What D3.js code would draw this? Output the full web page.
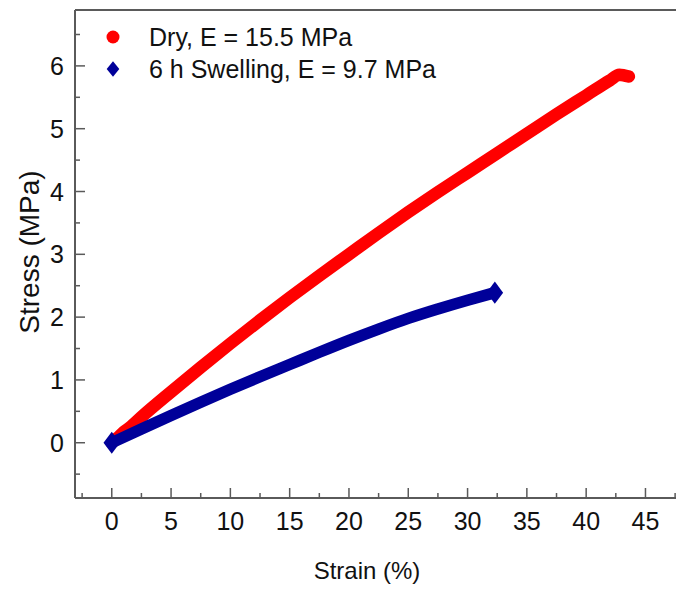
<!DOCTYPE html>
<html>
<head>
<meta charset="utf-8">
<script src="https://cdn.jsdelivr.net/npm/d3@7"></script>
<style>
  body { margin: 0; background: #fff; }
  svg { display: block; font-family: "Liberation Sans", Arial, sans-serif; }
</style>
</head>
<body>
<div id="chart"></div>
<script>
// strain (%) / stress (MPa)
var dryStrain = [0, 0.5, 1, 1.5, 2.5, 5, 7.5, 10, 12.5, 15, 17.5, 20, 22.5, 25, 27.5, 30, 32.5, 35, 37.5, 40, 42, 42.8, 43.6];
var dryStress = [0, 0.08, 0.17, 0.24, 0.41, 0.81, 1.20, 1.58, 1.95, 2.31, 2.66, 3.00, 3.34, 3.67, 3.99, 4.30, 4.61, 4.92, 5.23, 5.53, 5.77, 5.86, 5.83];
var wetStrain = [0, 2.5, 5, 7.5, 10, 12.5, 15, 17.5, 20, 22.5, 25, 27.5, 30, 32.3];
var wetStress = [0, 0.22, 0.435, 0.645, 0.85, 1.05, 1.245, 1.44, 1.63, 1.81, 1.98, 2.13, 2.27, 2.39];

var xTicks = [0, 5, 10, 15, 20, 25, 30, 35, 40, 45];
var yTicks = [0, 1, 2, 3, 4, 5, 6];
var legendNames = ["Dry, E = 15.5 MPa", "6 h Swelling, E = 9.7 MPa"];

var width = 676, height = 590;
var mLeft = 75, mTop = 10, mBottom = 498;

var svg = d3.select("#chart").append("svg")
    .attr("width", width)
    .attr("height", height);

// scales (right side of the frame is cut off by the picture)
var x = d3.scaleLinear().domain([-3.1, 50]).range([mLeft, mLeft + 53.1 * 11.86]);
var y = d3.scaleLinear().domain([-0.88, 6.89]).range([mBottom, mTop]);

var axisColor = "#5a5a5a";

// frame: left, bottom, top
svg.append("line").attr("x1", mLeft).attr("x2", width).attr("y1", mBottom).attr("y2", mBottom)
    .attr("stroke", axisColor).attr("stroke-width", 2);
svg.append("line").attr("x1", mLeft).attr("x2", width).attr("y1", mTop).attr("y2", mTop)
    .attr("stroke", axisColor).attr("stroke-width", 2);
svg.append("line").attr("x1", mLeft).attr("x2", mLeft).attr("y1", mTop).attr("y2", mBottom)
    .attr("stroke", axisColor).attr("stroke-width", 2);

// x ticks (inward)
var xMinor = d3.range(-2.5, 50, 5);
svg.selectAll(".xmaj").data(xTicks).enter().append("line")
    .attr("x1", d => x(d)).attr("x2", d => x(d))
    .attr("y1", mBottom).attr("y2", mBottom - 10)
    .attr("stroke", axisColor).attr("stroke-width", 1.5);
svg.selectAll(".xmin").data(xMinor).enter().append("line")
    .attr("x1", d => x(d)).attr("x2", d => x(d))
    .attr("y1", mBottom).attr("y2", mBottom - 5)
    .attr("stroke", axisColor).attr("stroke-width", 1.5);
svg.selectAll(".xlab").data(xTicks).enter().append("text")
    .attr("x", d => x(d)).attr("y", 530)
    .attr("text-anchor", "middle")
    .attr("font-size", 25).attr("fill", "#111")
    .text(d => d);

// y ticks (inward)
var yMinor = d3.range(-0.5, 6.9, 1);
svg.selectAll(".ymaj").data(yTicks).enter().append("line")
    .attr("x1", mLeft).attr("x2", mLeft + 10)
    .attr("y1", d => y(d)).attr("y2", d => y(d))
    .attr("stroke", axisColor).attr("stroke-width", 1.5);
svg.selectAll(".ymin").data(yMinor).enter().append("line")
    .attr("x1", mLeft).attr("x2", mLeft + 5)
    .attr("y1", d => y(d)).attr("y2", d => y(d))
    .attr("stroke", axisColor).attr("stroke-width", 1.5);
svg.selectAll(".ylab").data(yTicks).enter().append("text")
    .attr("x", 64).attr("y", d => y(d) + 9)
    .attr("text-anchor", "end")
    .attr("font-size", 25).attr("fill", "#111")
    .text(d => d);

// axis titles
svg.append("text")
    .attr("x", 367).attr("y", 579)
    .attr("text-anchor", "middle")
    .attr("font-size", 24).attr("fill", "#111")
    .text("Strain (%)");
svg.append("text")
    .attr("transform", "translate(39,252) rotate(-90)")
    .attr("text-anchor", "middle")
    .attr("font-size", 28).attr("fill", "#111")
    .text("Stress (MPa)");

// curves
var wetData = wetStrain.map((s, i) => [s, wetStress[i]]);
var dryData = dryStrain.map((s, i) => [s, dryStress[i]]);

var line = d3.line()
    .x(d => x(d[0]))
    .y(d => y(d[1]))
    .curve(d3.curveMonotoneX);

svg.append("path")
    .attr("d", line(dryData))
    .attr("fill", "none")
    .attr("stroke", "#ff0000")
    .attr("stroke-width", 12.5)
    .attr("stroke-linecap", "round")
    .attr("stroke-linejoin", "round");

svg.append("path")
    .attr("d", line(wetData))
    .attr("fill", "none")
    .attr("stroke", "#000099")
    .attr("stroke-width", 11.5)
    .attr("stroke-linecap", "butt")
    .attr("stroke-linejoin", "round");

// diamond ends of the blue series
var diamond = d3.symbol().type(d3.symbolDiamond).size(140);
svg.selectAll(".wend").data([wetData[0], wetData[wetData.length - 1]]).enter().append("path")
    .attr("d", diamond)
    .attr("transform", d => "translate(" + x(d[0]) + "," + y(d[1]) + ") scale(1.3,1)")
    .attr("fill", "#000099");

// legend
svg.append("circle")
    .attr("cx", 113).attr("cy", 37).attr("r", 6.5)
    .attr("fill", "#ff0000");
svg.append("path")
    .attr("d", d3.symbol().type(d3.symbolDiamond).size(70))
    .attr("transform", "translate(113,69) scale(1.4,1)")
    .attr("fill", "#000099");
svg.selectAll(".leg").data(legendNames).enter().append("text")
    .attr("x", 149).attr("y", (d, i) => 46 + i * 32)
    .attr("font-size", 25).attr("fill", "#111")
    .text(d => d);
</script>
</body>
</html>
